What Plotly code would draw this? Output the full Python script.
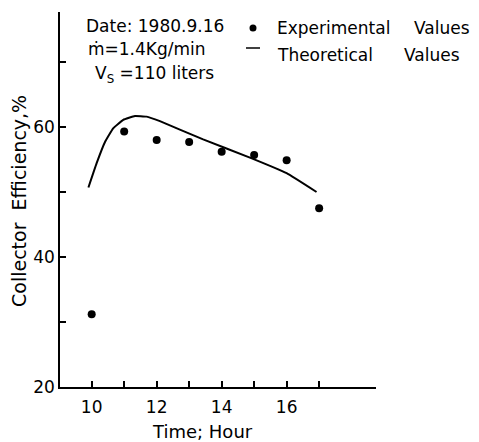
import plotly.graph_objects as go

# Experimental measurements (hour of day, collector efficiency %)
exp_hours = [10, 11, 12, 13, 14, 15, 16, 17]
exp_eff = [31.2, 59.3, 58.0, 57.7, 56.2, 55.7, 54.9, 47.5]

# Theoretical efficiency curve
theo_hours = [9.90, 10.15, 10.41, 10.66, 10.97, 11.33, 11.69, 12.10,
              13.43, 14.87, 16.00, 16.92]
theo_eff = [50.7, 54.4, 57.7, 59.8, 61.1, 61.7, 61.6, 60.9,
            58.1, 55.3, 52.9, 50.0]

# Axis ticks: labelled majors, unlabelled minors in between
x_major = [10, 12, 14, 16]
x_minor = [11, 13, 15, 17]
y_major = [20, 40, 60]
y_minor = [30, 50, 70]

FONT = "DejaVu Sans"
W, H = 479, 442
L, R, T, B = 60, 103, 12, 55
PW, PH = W - L - R, H - T - B


def px(x):
    return (x - L) / PW


def py(y):
    return (H - B - y) / PH


fig = go.Figure()

fig.add_trace(go.Scatter(
    x=theo_hours, y=theo_eff, mode="lines",
    line=dict(color="black", width=2, shape="spline", smoothing=0.3),
    showlegend=False, hoverinfo="skip",
))
fig.add_trace(go.Scatter(
    x=exp_hours, y=exp_eff, mode="markers",
    marker=dict(color="black", size=8),
    showlegend=False,
))

axis_common = dict(
    showline=True, linecolor="black", linewidth=1.5, mirror=False,
    showgrid=False, zeroline=False, ticks="inside", ticklen=6,
    tickwidth=1.5, tickcolor="black",
    tickfont=dict(family=FONT, size=17, color="black"),
)

fig.update_xaxes(range=[9.025, 18.75], tickmode="array", tickvals=x_major,
                 ticklabelstandoff=4,
                 minor=dict(tickmode="array", tickvals=x_minor, ticks="inside",
                            ticklen=6, tickwidth=1.5, tickcolor="black"),
                 **axis_common)
fig.update_yaxes(range=[20, 77.7], tickmode="array", tickvals=y_major,
                 ticklabelstandoff=0,
                 minor=dict(tickmode="array", tickvals=y_minor, ticks="inside",
                            ticklen=6, tickwidth=1.5, tickcolor="black"),
                 **axis_common)

annotations = [
    dict(text="Date: 1980.9.16", x=px(84), y=py(26.5), xanchor="left"),
    dict(text="ṁ=1.4Kg/min", x=px(86), y=py(49), xanchor="left"),
    dict(text="V<sub>S</sub> =110 liters", x=px(93), y=py(74), xanchor="left"),
    dict(text="Experimental", x=px(275), y=py(28), xanchor="left"),
    dict(text="Values", x=px(412), y=py(28), xanchor="left"),
    dict(text="Theoretical", x=px(275), y=py(55), xanchor="left"),
    dict(text="Values", x=px(402), y=py(55), xanchor="left"),
    dict(text="Collector  Efficiency,%", x=px(19), y=py(201), xanchor="center",
         textangle=-90, font=dict(family=FONT, size=19, color="black")),
    dict(text="Time; Hour", x=px(202), y=py(431), xanchor="center",
         font=dict(family=FONT, size=18, color="black")),
]
for a in annotations:
    a.setdefault("font", dict(family=FONT, size=17, color="black"))
    fig.add_annotation(xref="paper", yref="paper", yanchor="middle",
                       showarrow=False, **a)

# Key glyphs: filled dot for measurements, short dash for theory
fig.add_shape(type="circle", xref="paper", yref="paper",
              x0=px(249.5), x1=px(256.5), y0=py(24.5), y1=py(31.5),
              fillcolor="black", line=dict(color="black", width=0))
fig.add_shape(type="line", xref="paper", yref="paper",
              x0=px(246), x1=px(260), y0=py(48), y1=py(48),
              line=dict(color="black", width=1.5))

fig.update_layout(
    width=W, height=H,
    margin=dict(l=L, r=R, t=T, b=B),
    paper_bgcolor="white", plot_bgcolor="white",
    font=dict(family=FONT, color="black"),
)

fig.write_html("out.html")
